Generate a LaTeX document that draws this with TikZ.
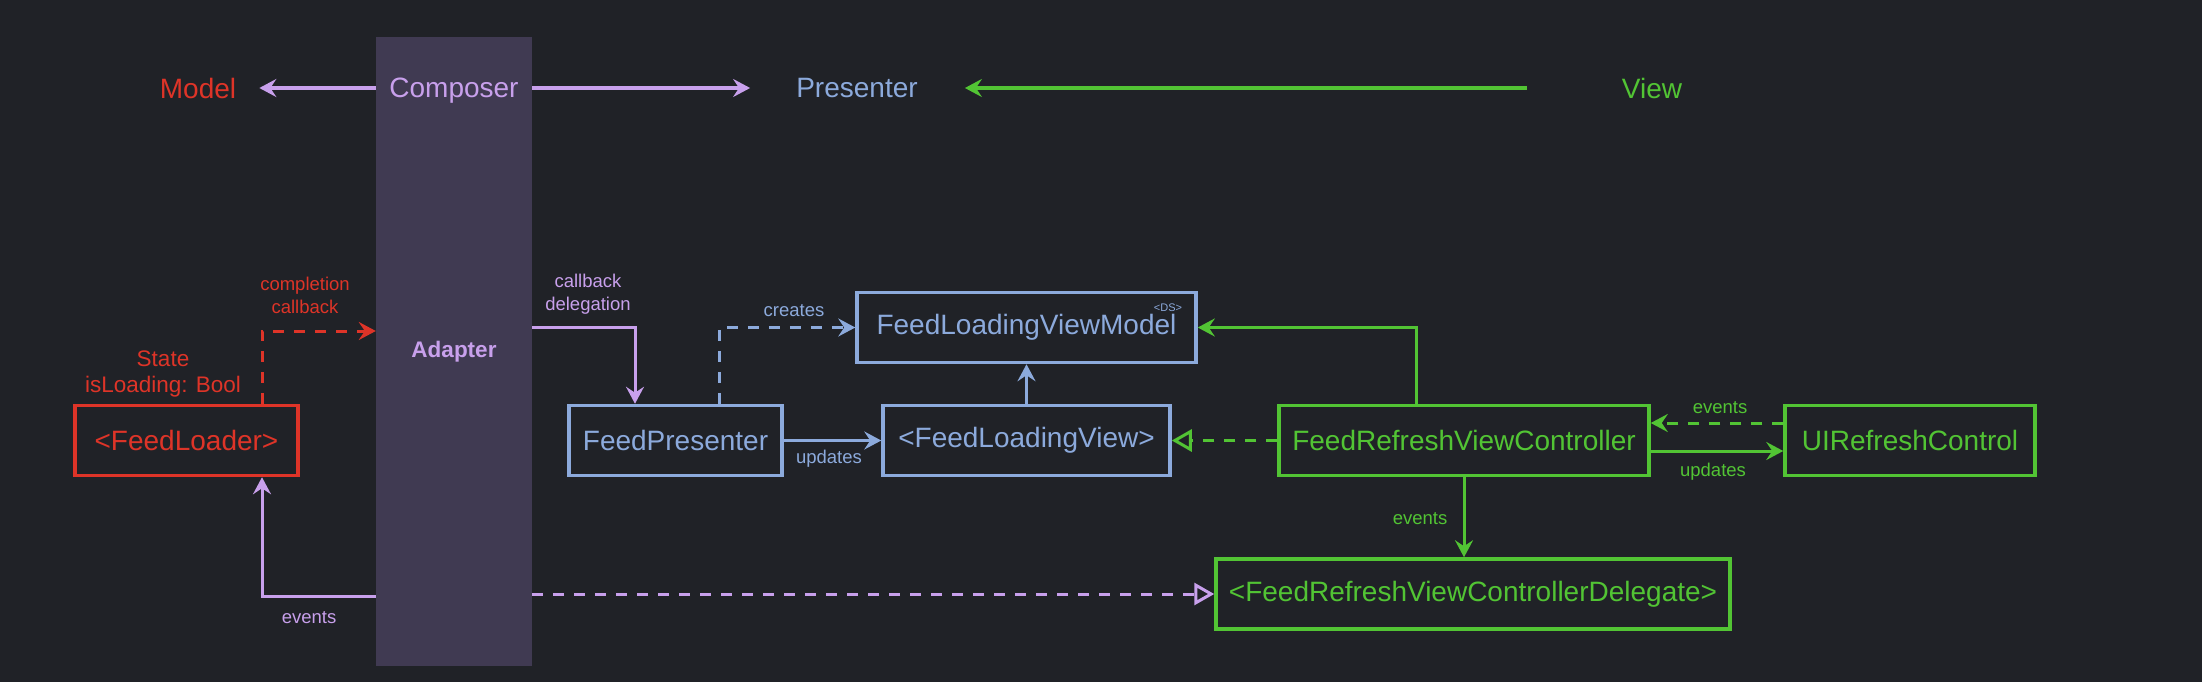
\documentclass[tikz,border=0pt]{standalone}
\usepackage{fontspec}
\setmainfont{Liberation Sans}
\usetikzlibrary{arrows.meta}
\definecolor{bg}{RGB}{32,34,39}
\definecolor{colfill}{RGB}{64,58,82}
\definecolor{cred}{RGB}{222,52,40}
\definecolor{cpurple}{RGB}{200,160,236}
\definecolor{cblue}{RGB}{140,170,220}
\definecolor{cgreen}{RGB}{82,196,52}
\begin{document}
\begin{tikzpicture}[x=1pt,y=-1pt,
  big/.style={font=\fontsize{28}{32}\selectfont, inner sep=0pt},
  small/.style={font=\fontsize{18.5}{23}\selectfont, inner sep=0pt, align=center},
  mid/.style={font=\fontsize{22.5}{26}\selectfont, inner sep=0pt, align=center},
  box/.style={draw, line width=3.5pt, minimum height=70pt, inner sep=0pt, font=\fontsize{28}{32}\selectfont},
  conn/.style={line width=3pt},
  thick4/.style={line width=3.5pt},
  tip/.style={-{Stealth[length=17pt,width=18pt,inset=6pt]}},
  realize/.style={-{Triangle[open,length=20pt,width=22pt]}},
  dsh/.style={dash pattern=on 11pt off 10pt},
]
\fill[bg] (0,0) rectangle (2202,682);
\useasboundingbox (0,0) rectangle (2202,682);

% composer column
\node[fill=colfill, minimum width=156pt, minimum height=629pt, inner sep=0pt,
  font=\bfseries\fontsize{22.5}{26}\selectfont, text=cpurple] (column) at (454,351.5) {Adapter};

% top row
\node[big, text=cred] (model) at (198,88) {Model};
\node[big, text=cpurple] (composer) at (454,91) {Composer};
\node[big, text=cblue] (presenter) at (857,88) {Presenter};
\node[big, text=cgreen] (view) at (1652,88) {View};

\draw[thick4, cpurple, tip, shorten >=23pt] (column.west |- model) -- (model.east);
\draw[thick4, cpurple, tip, shorten >=46pt] (column.east |- presenter) -- (presenter.west);
\draw[thick4, cgreen, tip, shorten <=95pt, shorten >=47pt] (view.west) -- (presenter.east);

% boxes
\node[box, cred, minimum width=223pt] (feedloader) at (186.5,440.5) {<FeedLoader>};
\node[box, cblue, minimum width=213pt] (fpresenter) at (675.5,440.5) {FeedPresenter};
\node[box, cblue, minimum width=339pt] (flvm) at (1026.5,327.5) {FeedLoadingViewModel};
\node[font=\fontsize{11}{12}\selectfont, text=cblue, inner sep=0pt] (ds) at (1168,308) {<DS>};
\node[box, cblue, minimum width=287pt] (flv) at (1026.5,440.5) {<FeedLoadingView>};
\node[box, cgreen, minimum width=370pt] (frvc) at (1464,440.5) {FeedRefreshViewController};
\node[box, cgreen, minimum width=250pt] (uirc) at (1910,440.5) {UIRefreshControl};
\node[box, cgreen, minimum width=514pt] (delegate) at (1473,594) {<FeedRefreshViewControllerDelegate>};

% bend points
\coordinate (c1) at (262,331);
\coordinate (c2) at (635,327);
\coordinate (c3) at (719,326);
\coordinate (c4) at (1416,327);
\coordinate (c5) at (262,596);
\coordinate (c6) at (1649,423);
\coordinate (c7) at (1649,451);

% model side
\node[small, text=cred] (lcompl) at (305,295) {completion\\callback};
\node[mid, text=cred] (lstate) at (163,374) {State\\isLoading: Bool};
\draw[conn, cred, dsh, tip] (feedloader.north -| c1) |- (column.west |- c1);

\draw[conn, cpurple, tip] (column.west |- c5) -| (feedloader.south -| c5);
\node[small, text=cpurple] (levents1) at (309,618) {events};

\draw[conn, cpurple, dsh, realize] (column.east |- delegate.west) -- (delegate.west);

% presenter side
\node[small, text=cpurple] (lcb) at (588,294) {callback\\delegation};
\draw[conn, cpurple, tip] (column.east |- c2) -| (fpresenter.north -| c2);

\draw[conn, cblue, dsh, tip] (fpresenter.north -| c3) |- (flvm.west);
\node[small, text=cblue] (lcreates) at (794,311) {creates};

\draw[conn, cblue, tip] (fpresenter.east) -- (flv.west);
\node[small, text=cblue] (lupd1) at (829,459) {updates};

\draw[conn, cblue, tip] (flv.north) -- (flvm.south);

% view side
\draw[conn, cgreen, tip] (frvc.north -| c4) |- (flvm.east);
\draw[conn, cgreen, dsh, realize] (frvc.west) -- (flv.east);
\draw[conn, cgreen, dsh, tip] (uirc.west |- c6) -- (frvc.east |- c6);
\node[small, text=cgreen] (levents2) at (1720,408) {events};
\draw[conn, cgreen, tip] (frvc.east |- c7) -- (uirc.west |- c7);
\node[small, text=cgreen] (lupd2) at (1713,472) {updates};
\draw[conn, cgreen, tip] (frvc.south) -- (frvc.south |- delegate.north);
\node[small, text=cgreen] (levents3) at (1420,519) {events};
\end{tikzpicture}
\end{document}
